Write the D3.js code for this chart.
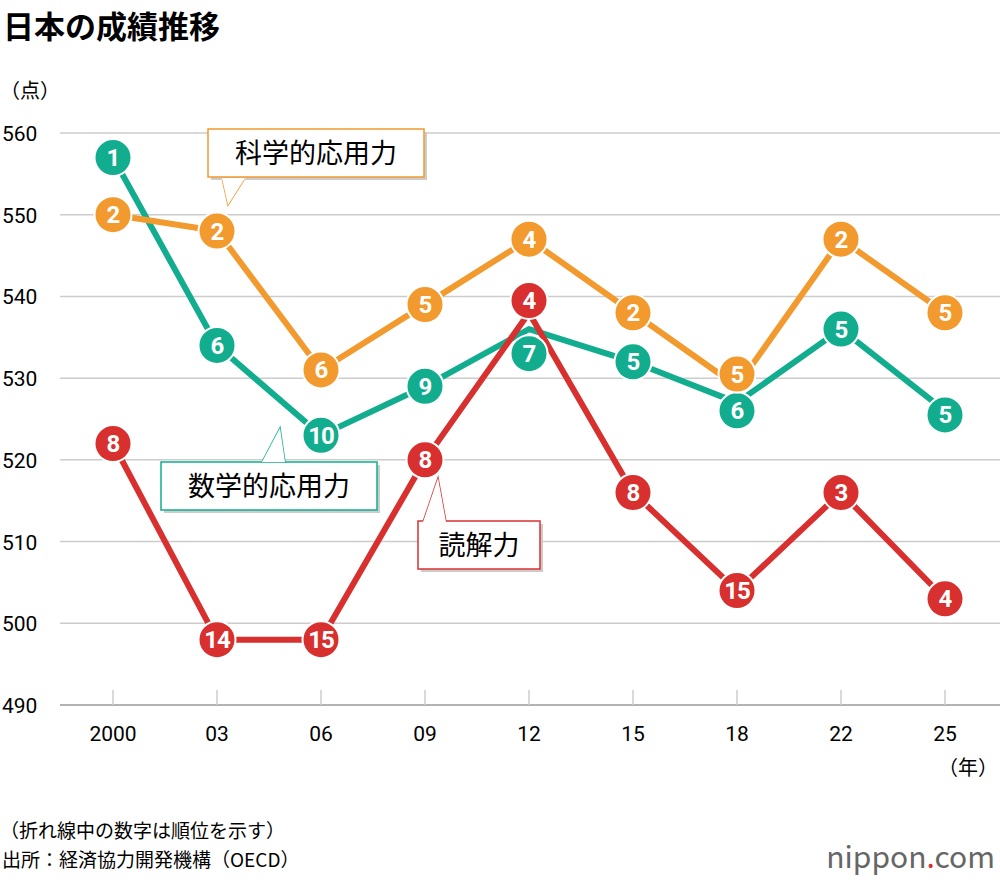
<!DOCTYPE html><html><head><meta charset="utf-8"><script src="https://cdn.jsdelivr.net/npm/d3@7"></script>
<style>body{margin:0;background:#fff}text{font-family:"Noto Sans CJK JP","Noto Sans",sans-serif}.num{font-family:Roboto,"Liberation Sans",sans-serif}</style></head><body>
<svg id="c" width="1000" height="884"></svg>
<script>
const years=["2000","03","06","09","12","15","18","22","25"];
const yTicks=[490,500,510,520,530,540,550,560];
const science=[550,548,531,539,547,538,529,547,538];
const scienceRank=[2,2,6,5,4,2,5,2,5];
const scienceDot=[550,548,531,539,547,538,530.5,547,538];
const math=[557,534,523,529,536,532,527,536,526];
const mathRank=[1,6,10,9,7,5,6,5,5];
const mathDot=[557,534,523,529,533,532,526,536,525.5];
const reading=[522,498,498,520,538,516,504,516,503];
const readingRank=[8,14,15,8,4,8,15,3,4];
const readingDot=[522,498,498,520,539.5,516,504,516,503];
const svg=d3.select("#c");
const x=d3.scalePoint().domain(years).range([113,945]);
const y=d3.scaleLinear().domain([490,560]).range([705,133]);
svg.append("text").attr("x",3).attr("y",38).attr("font-size",31).attr("font-weight",700).text("日本の成績推移");
svg.append("text").attr("x",0).attr("y",98).attr("font-size",20).text("（点）");
yTicks.forEach(t=>{
 svg.append("line").attr("x1",60).attr("x2",1000).attr("y1",y(t)).attr("y2",y(t)).attr("stroke",t==490?"#999":"#ccc").attr("stroke-width",1.5);
 svg.append("text").attr("class","num").attr("x",2).attr("y",y(t)+8).attr("font-size",21).text(t);
});
years.forEach(v=>{
 svg.append("line").attr("x1",x(v)).attr("x2",x(v)).attr("y1",690).attr("y2",705).attr("stroke","#ccc").attr("stroke-width",1.5);
 svg.append("text").attr("class","num").attr("x",x(v)).attr("y",741).attr("text-anchor","middle").attr("font-size",21).text(v);
});
svg.append("text").attr("x",998).attr("y",775).attr("text-anchor","end").attr("font-size",20).text("（年）");
const line=d3.line().x((d,i)=>x(years[i])).y(d=>y(d));
const series=[[math,mathDot,mathRank,"#12ad8f"],[science,scienceDot,scienceRank,"#f29a2e"],[reading,readingDot,readingRank,"#d8302f"]];
series.forEach(([v,dv,r,c])=>{
 svg.append("path").attr("d",line(v)).attr("fill","none").attr("stroke",c).attr("stroke-width",6).attr("stroke-linejoin","round");
});
series.forEach(([v,dv,r,c])=>{
 dv.forEach((d,i)=>{
  svg.append("circle").attr("cx",x(years[i])).attr("cy",y(d)).attr("r",18.5).attr("fill",c).attr("stroke","#fff").attr("stroke-width",2);
  svg.append("text").attr("class","num").attr("x",x(years[i])).attr("y",y(d)+8.5).attr("text-anchor","middle").attr("font-size",24).attr("font-weight",700).attr("fill","#fff").attr("letter-spacing",-1).text(r[i]);
 });
});
function box(bx,by,w,h,c,label,tail){
 const g=svg.append("g");
 g.append("path").attr("d",tail).attr("fill","#fff").attr("stroke",c).attr("stroke-width",1.5);
 g.append("rect").attr("x",bx+3).attr("y",by+3).attr("width",w).attr("height",h).attr("fill","#ccc");
 g.append("rect").attr("x",bx).attr("y",by).attr("width",w).attr("height",h).attr("fill","#fff").attr("stroke",c).attr("stroke-width",1.5);
 g.append("path").attr("d",tail).attr("fill","#fff").attr("stroke","none");
 g.append("text").attr("x",bx+w/2).attr("y",by+h/2+10).attr("text-anchor","middle").attr("font-size",27).text(label);
}
box(208,129,216,48,"#f29a2e","科学的応用力","M222,178 L228,205 L245,178");
box(161,462,216,48,"#12ad8f","数学的応用力","M262,462 L280,428 L285,462");
box(418,521,122,48,"#d8302f","読解力","M423,522 L438,478 L446,522");
svg.append("text").attr("x",0).attr("y",838).attr("font-size",19).text("（折れ線中の数字は順位を示す）");
svg.append("text").attr("x",2).attr("y",867).attr("font-size",19).text("出所：経済協力開発機構（OECD）");
const logo=svg.append("text").attr("x",995).attr("y",868).attr("text-anchor","end").attr("font-size",30).attr("fill","#666");
logo.append("tspan").text("nippon");
logo.append("tspan").attr("fill","#d8302f").text(".");
logo.append("tspan").text("com");
</script></body></html>
